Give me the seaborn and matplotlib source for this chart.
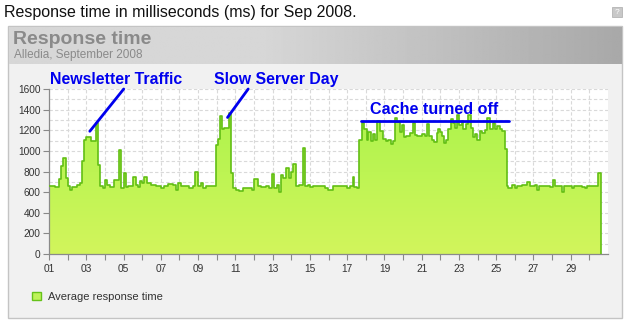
import numpy as np
import pandas as pd
import matplotlib
matplotlib.use("Agg")
import matplotlib.pyplot as plt
import seaborn as sns
from matplotlib.patches import Rectangle, Patch, PathPatch
from matplotlib.colors import LinearSegmentedColormap
from matplotlib.ticker import MultipleLocator, FixedLocator

# ---------------- data ----------------
day_start = [1.000, 1.304, 1.536, 1.661, 1.750, 1.893, 2.018, 2.143, 2.250, 2.500, 2.643, 2.768, 2.875,
             3.000, 3.268, 3.500, 3.625, 3.750, 3.893, 4.000, 4.107, 4.250, 4.482, 4.732, 4.875,
             5.000, 5.107, 5.250, 5.500, 5.643, 5.786, 5.893, 6.000, 6.125, 6.250, 6.482, 6.750,
             7.018, 7.196, 7.375, 7.643, 7.821, 7.946, 8.089, 8.268, 8.536, 8.714, 8.857, 8.982,
             9.161, 9.286, 9.429, 9.696, 9.964, 10.054, 10.179, 10.286, 10.411, 10.679, 10.768, 10.893,
             11.036, 11.214, 11.393, 11.893, 12.018, 12.196, 12.375, 12.643, 12.821, 12.964,
             13.089, 13.214, 13.357, 13.446, 13.571, 13.714, 13.857, 13.982, 14.071, 14.250, 14.393,
             14.607, 14.750, 14.875,
             15.000, 15.179, 15.537, 15.805, 15.984, 16.252, 16.968, 17.147, 17.290, 17.379, 17.504,
             17.648, 17.773, 17.898, 18.041, 18.131, 18.256, 18.363, 18.488, 18.614, 18.757, 18.936,
             19.079, 19.204, 19.329, 19.472, 19.562, 19.687, 19.830, 19.919, 20.045, 20.152, 20.367,
             20.510, 20.635, 20.760, 20.993, 21.172, 21.261, 21.404, 21.530, 21.655, 21.798, 21.887,
             21.977, 22.066, 22.191, 22.299, 22.424, 22.549, 22.656, 22.782, 22.871, 23.014, 23.140,
             23.229, 23.354, 23.497, 23.623, 23.730, 23.855, 23.980, 24.123, 24.249, 24.392, 24.517,
             24.660, 24.803, 24.928, 25.054, 25.197, 25.286, 25.465, 25.555, 25.644, 25.823, 26.002,
             26.127, 26.360, 26.628, 26.807, 27.075, 27.200, 27.308, 27.522, 27.701, 27.880, 28.059,
             28.148, 28.274, 28.506, 28.631, 29.043, 29.168, 29.311, 29.580, 29.758, 29.884, 30.027,
             30.206, 30.349, 30.474]
resp_ms = [660, 650, 730, 850, 930, 740, 660, 625, 650, 670, 690, 900, 1110,
           1135, 1100, 1275, 860, 660, 640, 720, 670, 650, 715, 1010, 640,
           790, 650, 660, 750, 670, 650, 705, 690, 750, 690, 670, 660,
           640, 660, 680, 670, 625, 690, 660, 655, 640, 660, 800, 660,
           690, 640, 655, 660, 1055, 1120, 1335, 1210, 1225, 1365, 790, 640,
           625, 610, 640, 625, 730, 655, 650, 660, 640, 780,
           640, 665, 600, 770, 740, 830, 740, 800, 870, 655, 670,
           1030, 655, 670,
           650, 655, 660, 640, 625, 655, 640, 660, 750, 650, 640,
           1110, 1275, 1210, 1110, 1180, 1095, 1160, 1110, 1290, 1195, 1120,
           1095, 1110, 1065, 1095, 1315, 1280, 1180, 1250, 1130, 1145, 1170,
           1275, 1150, 1140, 1160, 1140, 1260, 1140, 1110, 1085, 1170, 1215,
           1180, 1145, 1075, 1110, 1210, 1305, 1275, 1225, 1345, 1250, 1290,
           1210, 1260, 1345, 1225, 1130, 1160, 1110, 1195, 1170, 1205, 1315,
           1210, 1270, 1210, 1240, 1210, 1195, 1015, 660, 640, 670, 640,
           660, 670, 695, 660, 670, 625, 660, 655, 660, 650, 715,
           655, 660, 600, 655, 640, 660, 655, 650, 640, 660, 655,
           660, 655, 790]
last_day = 30.6
x_tick_days = list(range(1, 31))
x_tick_labels = [f"{d:02d}" if d % 2 == 1 else "" for d in x_tick_days]
y_ticks = [0, 200, 400, 600, 800, 1000, 1200, 1400, 1600]
series_name = "Average response time"

notes = ["Newsletter Traffic", "Slow Server Day", "Cache turned off"]

# ---------------- figure ----------------
W, H = 627, 330
sns.set_style("white")
plt.rcParams["font.family"] = ["Liberation Sans", "DejaVu Sans"]

fig = plt.figure(figsize=(W / 100, H / 100), dpi=100)
fig.patch.set_facecolor("white")

def fx(px):
    return px / W

def fy(py):
    return 1 - py / H

# panel background
fig.add_artist(Rectangle((fx(8), fy(318)), fx(614), (318 - 26) / H, transform=fig.transFigure,
                         facecolor="#f1f1f1", edgecolor="#c4c4c4", lw=1, zorder=-10))

# header gradient band
ax_head = fig.add_axes([fx(8.5), fy(64), fx(613), (64 - 26.5) / H])
t = np.linspace(0, 1, 400)
shade = np.where(t < 0.42, 0.84, 0.84 - (t - 0.42) / 0.58 * 0.18)
ax_head.imshow(np.tile(shade, (2, 1)), cmap="gray", vmin=0, vmax=1, aspect="auto",
               extent=[0, 1, 0, 1])
ax_head.set_axis_off()

fig.text(fx(4), fy(12), "Response time in milliseconds (ms) for Sep 2008.", fontsize=11.5,
         va="center", ha="left", color="#111111")
fig.add_artist(Rectangle((fx(612), fy(17)), fx(10), 10 / H, transform=fig.transFigure,
                         facecolor="#c8c8c8", edgecolor="#b4b4b4", lw=0.6))
fig.text(fx(617), fy(12), "?", fontsize=6, color="white", ha="center", va="center")
fig.text(fx(13), fy(40), "Response time", fontsize=14, fontweight="bold", color="#8a8a8a",
         va="center", ha="left")
fig.text(fx(14), fy(55), "Alledia, September 2008", fontsize=8.5, color="#8a8a8a",
         va="center", ha="left")

# main axes
ax = fig.add_axes([fx(49), fy(254), fx(608 - 49), (254 - 89) / H])
ax.set_facecolor("white")

xs = day_start + [last_day, last_day]
ys = resp_ms + [resp_ms[-1], 0]
df = pd.DataFrame({"day": xs, "ms": ys})

# gradient fill under the step curve
fill = ax.fill_between(day_start + [last_day], resp_ms + [resp_ms[-1]], step="post",
                       facecolor="none", edgecolor="none")
cmap = LinearSegmentedColormap.from_list("g", ["#d2f55c", "#a8f34a"])
grad = np.linspace(0, 1, 256).reshape(-1, 1)
im = ax.imshow(grad, cmap=cmap, origin="lower", aspect="auto", extent=[1, 31, 0, 1600], zorder=1)
clip = PathPatch(fill.get_paths()[0], transform=ax.transData, facecolor="none", edgecolor="none")
ax.add_patch(clip)
im.set_clip_path(clip)

sns.lineplot(data=df, x="day", y="ms", estimator=None, sort=False, drawstyle="steps-post",
             color="#62bf14", linewidth=1.2, ax=ax, zorder=3)

ax.set_xlim(1, 31)
ax.set_ylim(0, 1600)
ax.xaxis.set_major_locator(FixedLocator(x_tick_days))
ax.set_xticklabels(x_tick_labels)
ax.yaxis.set_major_locator(FixedLocator(y_ticks))
ax.yaxis.set_minor_locator(MultipleLocator(100))
ax.grid(True, which="both", axis="y", color="#d9d9d9", linestyle=(0, (3, 2)), linewidth=0.8, zorder=0)
ax.grid(True, which="major", axis="x", color="#d9d9d9", linestyle=(0, (3, 2)), linewidth=0.8, zorder=0)
ax.set_axisbelow(True)
ax.tick_params(axis="both", which="major", labelsize=7.3, colors="#888888", labelcolor="#333333",
               length=4, width=0.8, direction="out", left=True, bottom=True)
ax.tick_params(axis="y", which="minor", length=0)
ax.tick_params(axis="x", pad=3)
ax.tick_params(axis="y", pad=2)
for s in ["top", "right"]:
    ax.spines[s].set_visible(False)
for s in ["left", "bottom"]:
    ax.spines[s].set_color("#8a8a8a")
    ax.spines[s].set_linewidth(0.9)
ax.set_xlabel("")
ax.set_ylabel("")
if ax.get_legend():
    ax.get_legend().remove()

# annotations
blue = "#0000ee"
ax.text(1.05, 1690, notes[0], fontsize=11.4, fontweight="bold", color=blue, ha="left",
        va="center", clip_on=False)
ax.plot([3.19, 5.01], [1190, 1600], color=blue, lw=2, clip_on=False, zorder=5)
ax.text(9.85, 1690, notes[1], fontsize=11.4, fontweight="bold", color=blue, ha="left",
        va="center", clip_on=False)
ax.plot([10.58, 11.69], [1324, 1600], color=blue, lw=2, clip_on=False, zorder=5)
ax.text(21.65, 1400, notes[2], fontsize=11.6, fontweight="bold", color=blue, ha="center",
        va="center", clip_on=False, zorder=6)
ax.plot([17.74, 25.69], [1291, 1291], color=blue, lw=2, clip_on=False, zorder=5)

# legend
handle = Patch(facecolor="#bff25a", edgecolor="#66c21a", linewidth=1)
fig.legend([handle], [series_name], loc="center left", bbox_to_anchor=(fx(22), fy(297)),
           frameon=False, fontsize=8, handlelength=0.8, handleheight=0.8, handletextpad=0.6,
           labelcolor="#333333")

fig.savefig("out.png", dpi=100)
